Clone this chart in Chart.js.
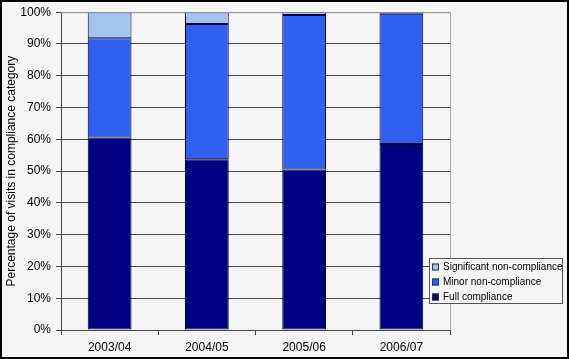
<!DOCTYPE html>
<html>
<head>
<meta charset="utf-8">
<script src="https://cdn.jsdelivr.net/npm/chart.js@4"></script>
<style>
  html, body { margin: 0; padding: 0; background: #f5f5f5; }
  #wrap { width: 569px; height: 359px; position: relative; }
</style>
</head>
<body>
<div id="wrap"><canvas id="chart" width="569" height="359"></canvas></div>
<script>
const years = ['2003/04', '2004/05', '2005/06', '2006/07'];
const fullCompliance = [60.6, 53.7, 50.5, 58.5];
const minorNonCompliance = [31.2, 42.6, 48.6, 41.0];
const significantNonCompliance = [8.2, 3.7, 0.9, 0.5];
const yTicks = [0, 10, 20, 30, 40, 50, 60, 70, 80, 90, 100];

const FONT = 'Liberation Sans, Arial, sans-serif';

// legend drawn inside the plot, excel style, plus frame and plot border
const excelLegend = {
  id: 'excelLegend',
  afterDraw(chart) {
    const ctx = chart.ctx;
    const a = chart.chartArea;
    ctx.save();
    // plot top / right border
    ctx.strokeStyle = '#a8a8a8';
    ctx.lineWidth = 1;
    ctx.beginPath();
    ctx.moveTo(a.left, a.top + 0.5);
    ctx.lineTo(a.right + 0.5, a.top + 0.5);
    ctx.lineTo(a.right + 0.5, a.bottom);
    ctx.stroke();

    // legend box
    const bx = 429.5, by = 258.5, bw = 133, bh = 45;
    ctx.fillStyle = '#f5f5f5';
    ctx.fillRect(bx, by, bw, bh);
    ctx.strokeStyle = '#555';
    ctx.strokeRect(bx, by, bw, bh);

    const items = chart.data.datasets.slice().reverse();
    ctx.font = '10px ' + FONT;
    ctx.textBaseline = 'middle';
    items.forEach((ds, i) => {
      const cy = 267 + i * 15;
      ctx.fillStyle = ds.backgroundColor;
      ctx.fillRect(432, cy - 3.5, 7, 7);
      ctx.strokeStyle = '#333';
      ctx.strokeRect(432.5, cy - 3, 6, 6);
      ctx.fillStyle = '#000';
      ctx.fillText(ds.label, 443, cy);
    });

    // outer frame
    ctx.strokeStyle = '#000';
    ctx.lineWidth = 2;
    ctx.strokeRect(1, 1, chart.width - 2, chart.height - 2);
    ctx.restore();
  }
};

const ctx = document.getElementById('chart');
new Chart(ctx, {
  type: 'bar',
  data: {
    labels: years,
    datasets: [
      { label: 'Full compliance', data: fullCompliance, backgroundColor: '#000080' },
      { label: 'Minor non-compliance', data: minorNonCompliance, backgroundColor: '#3060f0' },
      { label: 'Significant non-compliance', data: significantNonCompliance, backgroundColor: '#a4c4f0' }
    ].map(ds => Object.assign(ds, {
      borderColor: '#000033',
      borderWidth: 1,
      borderSkipped: false,
      barPercentage: 0.45,
      categoryPercentage: 1
    }))
  },
  options: {
    responsive: false,
    animation: false,
    events: [],
    layout: { padding: { top: 11, right: 119, left: 0, bottom: 0 } },
    plugins: {
      legend: { display: false },
      tooltip: { enabled: false }
    },
    scales: {
      x: {
        stacked: true,
        afterFit(scale) { scale.height = 29; },
        grid: {
          offset: true,
          drawOnChartArea: false,
          color: '#444',
          tickLength: 5
        },
        border: { color: '#444' },
        ticks: { color: '#000', font: { family: FONT, size: 12 }, padding: 5 }
      },
      y: {
        stacked: true,
        min: 0,
        max: 100,
        afterFit(scale) { scale.width = 61; },
        afterBuildTicks(scale) { scale.ticks = yTicks.map(v => ({ value: v })); },
        grid: { color: '#444', tickLength: 5 },
        border: { color: '#444' },
        ticks: {
          color: '#000',
          font: { family: FONT, size: 12 },
          padding: 5,
          callback: v => v + '%'
        },
        title: {
          display: true,
          text: 'Percentage of visits in compliance category',
          color: '#000',
          font: { family: FONT, size: 12 },
          padding: { top: 4, bottom: 0 }
        }
      }
    }
  },
  plugins: [excelLegend]
});
</script>
</body>
</html>
